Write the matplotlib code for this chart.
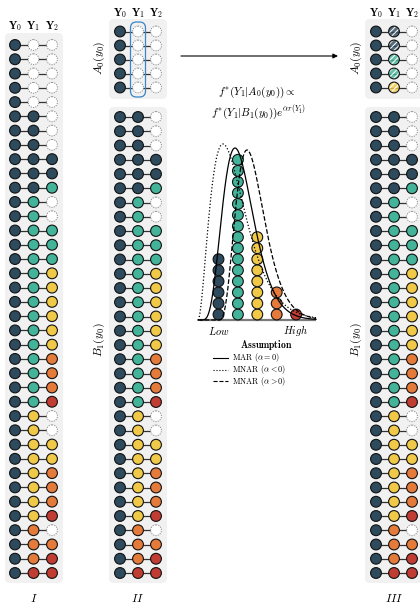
import numpy as np
import matplotlib
matplotlib.use('Agg')
import matplotlib.pyplot as plt
from matplotlib.patches import Circle, FancyBboxPatch
from collections import Counter

plt.rcParams['mathtext.fontset'] = 'cm'
plt.rcParams['font.family'] = 'serif'
plt.rcParams['font.serif'] = ['DejaVu Serif']
plt.rcParams['hatch.linewidth'] = 0.7

# Données : une ligne par individu, codes de catégorie ('-' = manquant)
y0_codes = ['D'] * 38
y1_codes = ['-'] * 5 + ['D'] * 6 + ['G'] * 15 + ['Y'] * 8 + ['O'] * 3 + ['R']
y2_codes = (['-'] * 8 + ['D'] * 2 + ['G'] + ['-'] * 2 + ['G'] * 3 + ['Y'] * 6 + ['O'] * 3 + ['R']
            + ['-'] * 2 + ['Y'] * 2 + ['O'] * 3 + ['R'] + ['-'] + ['O'] + ['R'] * 2)
imputed_y1 = ['D', 'D', 'G', 'G', 'Y']
n_a0 = 5
order = ['D', 'G', 'Y', 'O', 'R']
colors = {'D': '#2e4a5d', 'G': '#43b39a', 'Y': '#f1c948', 'O': '#e57b3b', 'R': '#c13c33'}

# Courbes de densité (forme gamma) : MAR, MNAR a<0, MNAR a>0
curve_styles = ['-', ':', '--']
curve_labels = [r'$\mathrm{MAR}\ (\alpha = 0)$', r'$\mathrm{MNAR}\ (\alpha < 0)$',
                r'$\mathrm{MNAR}\ (\alpha > 0)$']
curve_start = [200, 198, 218]
curve_shape = [5, 2, 4]
curve_scale = [7.0, 12.5, 7.25]
curve_peak = [172, 176, 170]

R = 5.4

fig = plt.figure(figsize=(4.2, 6.05), dpi=100)
ax = fig.add_axes([0, 0, 1, 1])
ax.set_xlim(0, 420)
ax.set_ylim(605, 0)
ax.axis('off')


def box(x, y, w, h):
    ax.add_patch(FancyBboxPatch((x, y), w, h, boxstyle='round,pad=0,rounding_size=5',
                                fc='#f1f1f1', ec='none', zorder=0))


def draw_row(xs, y, codes, hatched=None):
    ax.plot(xs, [y] * 3, color='#333333', lw=0.9, zorder=1)
    for i, (x, c) in enumerate(zip(xs, codes)):
        if hatched is not None and i == 1:
            ax.add_patch(Circle((x, y), R, fc=colors[hatched], ec='none', alpha=0.8, zorder=2))
            ax.add_patch(Circle((x, y), R, fc='none', ec='white', lw=0, hatch='//////', zorder=3))
            ax.add_patch(Circle((x, y), R, fc='none', ec='#111111', lw=0.8, zorder=4))
        elif c == '-':
            ax.add_patch(Circle((x, y), R, fc='white', ec='#8a8a8a', lw=0.7,
                                ls=(0, (1.2, 1.2)), zorder=2))
        else:
            ax.add_patch(Circle((x, y), R, fc=colors[c], ec='#111111', lw=0.8, zorder=2))


def header(xs, y):
    for k, x in enumerate(xs):
        ax.text(x, y, r'$\mathbf{Y}_%d$' % k, ha='center', va='center', fontsize=8)


rows = list(zip(y0_codes, y1_codes, y2_codes))

# Panneau I
xs1 = [15, 33.5, 52]
box(5, 33, 58, 550)
header(xs1, 26)
for i, r in enumerate(rows):
    draw_row(xs1, 45 + i * 14.27, r)
ax.text(33.5, 598, r'$\mathit{I}$', ha='center', va='center', fontsize=8.5)

# Panneaux II et III
for xs, lx, lab in [([120, 138, 156], 99, 'II'), ([376, 394, 412], 356, 'III')]:
    box(xs[0] - 11, 19, 58, 80)
    box(xs[0] - 11, 107, 58, 476)
    header(xs, 13)
    for i, r in enumerate(rows[:n_a0]):
        h = imputed_y1[i] if lab == 'III' else None
        draw_row(xs, 31.5 + i * 14, r, hatched=h)
    for j, r in enumerate(rows[n_a0:]):
        draw_row(xs, 117 + j * 14.25, r)
    ax.text(lx, 58, r'$A_0(y_0)$', rotation=90, ha='center', va='center', fontsize=8.5)
    ax.text(lx, 340, r'$B_1(y_0)$', rotation=90, ha='center', va='center', fontsize=8.5)
    ax.text(xs[1], 598, r'$\mathit{%s}$' % lab, ha='center', va='center', fontsize=8.5)

ax.add_patch(FancyBboxPatch((130.5, 22), 15, 75, boxstyle='round,pad=0,rounding_size=6',
                            fc='none', ec='#3a86c6', lw=0.9, zorder=5))

# Flèche et formule
ax.annotate('', xy=(338, 56), xytext=(181, 56),
            arrowprops=dict(arrowstyle='-|>', lw=0.8, color='black', mutation_scale=7,
                            shrinkA=0, shrinkB=0))
ax.text(257, 92, r'$f^{*}(Y_1|A_0(y_0))\propto$', ha='center', va='center', fontsize=8)
ax.text(259, 113, r'$f^{*}(Y_1|B_1(y_0))e^{\alpha r(Y_1)}$', ha='center', va='center', fontsize=8)

# Histogramme de Y1 dans B1 (cercles empilés)
base_y = 320
counts = Counter(y1_codes[n_a0:])
for k, c in enumerate(order):
    cx = 218.5 + k * 19.4
    for m in range(counts[c]):
        ax.add_patch(Circle((cx, base_y - 5.5 - m * 11.05), R, fc=colors[c], ec='#111111',
                            lw=0.8, zorder=2))
ax.plot([200, 316], [base_y, base_y], color='#7a7a7a', lw=1.6, zorder=1, solid_capstyle='butt')

u_x = np.linspace(198, 316, 400)
for x0, k, th, pk, ls in zip(curve_start, curve_shape, curve_scale, curve_peak, curve_styles):
    u = np.clip(u_x - x0, 0, None)
    f = u ** k * np.exp(-u / th)
    f = f / f.max() * pk
    ax.plot(u_x, base_y - f, color='black', ls=ls, lw=0.9, zorder=6)

ax.text(218.5, 331, r'$\mathit{Low}$', ha='center', va='center', fontsize=7.5)
ax.text(296, 331, r'$\mathit{High}$', ha='center', va='center', fontsize=7.5)

# Légende
ax.text(266, 345, r'$\mathbf{Assumption}$', ha='center', va='center', fontsize=7)
for i, (ls, lab) in enumerate(zip(curve_styles, curve_labels)):
    yy = 358 + i * 11.6
    ax.plot([213, 228], [yy, yy], color='black', ls=ls, lw=0.8)
    ax.text(232, yy, lab, ha='left', va='center', fontsize=5.9)

fig.savefig('out.png', dpi=100)
